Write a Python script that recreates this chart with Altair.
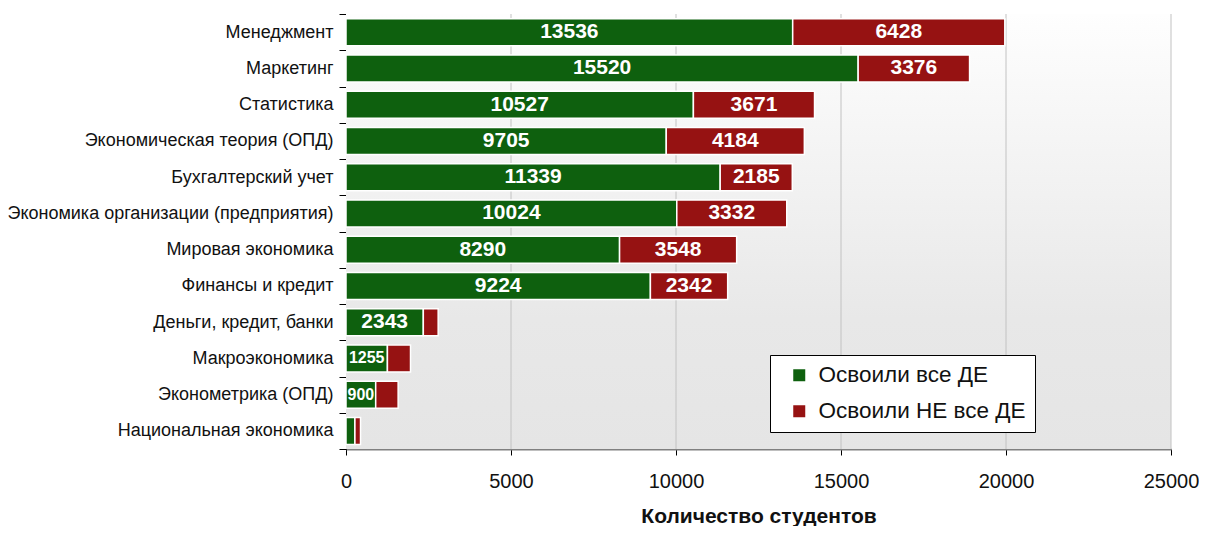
import altair as alt
import pandas as pd

categories = [
    "Менеджмент",
    "Маркетинг",
    "Статистика",
    "Экономическая теория (ОПД)",
    "Бухгалтерский учет",
    "Экономика организации (предприятия)",
    "Мировая экономика",
    "Финансы и кредит",
    "Деньги, кредит, банки",
    "Макроэкономика",
    "Эконометрика (ОПД)",
    "Национальная экономика",
]
mastered = [13536, 15520, 10527, 9705, 11339, 10024, 8290, 9224, 2343, 1255, 900, 270]
not_mastered = [6428, 3376, 3671, 4184, 2185, 3332, 3548, 2342, 450, 700, 680, 170]
series_names = ["Освоили все ДЕ", "Освоили НЕ все ДЕ"]
series_colors = ["#0e600e", "#961212"]
x_ticks = [0, 5000, 10000, 15000, 20000, 25000]

rows = []
for c, a, b in zip(categories, mastered, not_mastered):
    rows.append({"cat": c, "series": series_names[0], "value": a, "order": 0})
    rows.append({"cat": c, "series": series_names[1], "value": b, "order": 1})
df = pd.DataFrame(rows)

W, H = 825, 435
FONT = "Liberation Sans"
xscale = alt.Scale(domain=[0, 25000], nice=False, zero=True)
yscale = alt.Scale(paddingInner=0, paddingOuter=0)

y_axis = alt.Axis(
    title=None,
    labelFont=FONT,
    labelFontSize=18,
    labelColor="#111111",
    labelPadding=6,
    labelLimit=500,
    tickBand="extent",
    tickSize=7,
    tickColor="black",
    domainColor="black",
    grid=False,
)
x_axis = alt.Axis(
    values=x_ticks,
    format="d",
    grid=False,
    title="Количество студентов",
    titleFont=FONT,
    titleFontSize=21,
    titleFontWeight="bold",
    titleColor="#111111",
    titlePadding=14,
    labelFont=FONT,
    labelFontSize=20,
    labelColor="#111111",
    labelPadding=16,
    tickSize=6,
    tickColor="black",
    domainColor="#808080",
    domainWidth=2,
    labelFlush=False,
)

bg = alt.Chart(pd.DataFrame({"k": [0]})).mark_rect(
    fill=alt.Gradient(
        gradient="linear",
        stops=[
            alt.GradientStop(color="#fefefe", offset=0),
            alt.GradientStop(color="#e8e8e8", offset=0.7),
            alt.GradientStop(color="#e5e5e5", offset=1),
        ],
        x1=0, x2=0, y1=0, y2=1,
    )
).encode(x=alt.value(0), x2=alt.value(W), y=alt.value(0), y2=alt.value(H))

grid = alt.Chart(pd.DataFrame({"t": x_ticks[1:]})).mark_rule(
    color="#c2c2c2", strokeWidth=1
).encode(
    x=alt.X("t:Q", scale=xscale, axis=x_axis),
    y=alt.value(0),
    y2=alt.value(H),
)

bars = alt.Chart(df).mark_bar(height=27, stroke="white", strokeWidth=1.5).encode(
    y=alt.Y("cat:N", sort=categories, scale=yscale, axis=y_axis),
    x=alt.X("value:Q", stack="zero", scale=xscale, axis=x_axis),
    color=alt.Color(
        "series:N",
        scale=alt.Scale(domain=series_names, range=series_colors),
        legend=alt.Legend(
            title=None,
            orient="none",
            legendX=424,
            legendY=341,
            fillColor="white",
            strokeColor="black",
            padding=9,
            symbolOffset=9,
            labelFont=FONT,
            labelFontSize=22.5,
            labelColor="#111111",
            labelOffset=8,
            labelLimit=400,
            symbolType="square",
            symbolSize=144,
            symbolStrokeWidth=0,
            rowPadding=13,
        ),
    ),
    order=alt.Order("order:Q"),
)

labels = alt.Chart(df).transform_stack(
    stack="value", groupby=["cat"], as_=["x0", "x1"], sort=[alt.SortField("order")]
).transform_calculate(
    mid="(datum.x0 + datum.x1) / 2"
).transform_filter(
    "datum.value >= 800"
).mark_text(color="white", fontWeight="bold", font=FONT, baseline="middle").encode(
    y=alt.Y("cat:N", sort=categories, scale=yscale, axis=y_axis),
    x=alt.X("mid:Q", scale=xscale, axis=x_axis),
    text=alt.Text("value:Q", format="d"),
    size=alt.condition("datum.value < 1500", alt.value(16), alt.value(21)),
)

chart = alt.layer(bg, grid, bars, labels).properties(
    width=W,
    height=H,
    autosize=alt.AutoSizeParams(type="none"),
    padding={"left": 338, "top": 6, "right": 28, "bottom": 77},
).configure_view(stroke=None)

chart.save("out.html", embed_options={"renderer": "svg", "actions": False})
